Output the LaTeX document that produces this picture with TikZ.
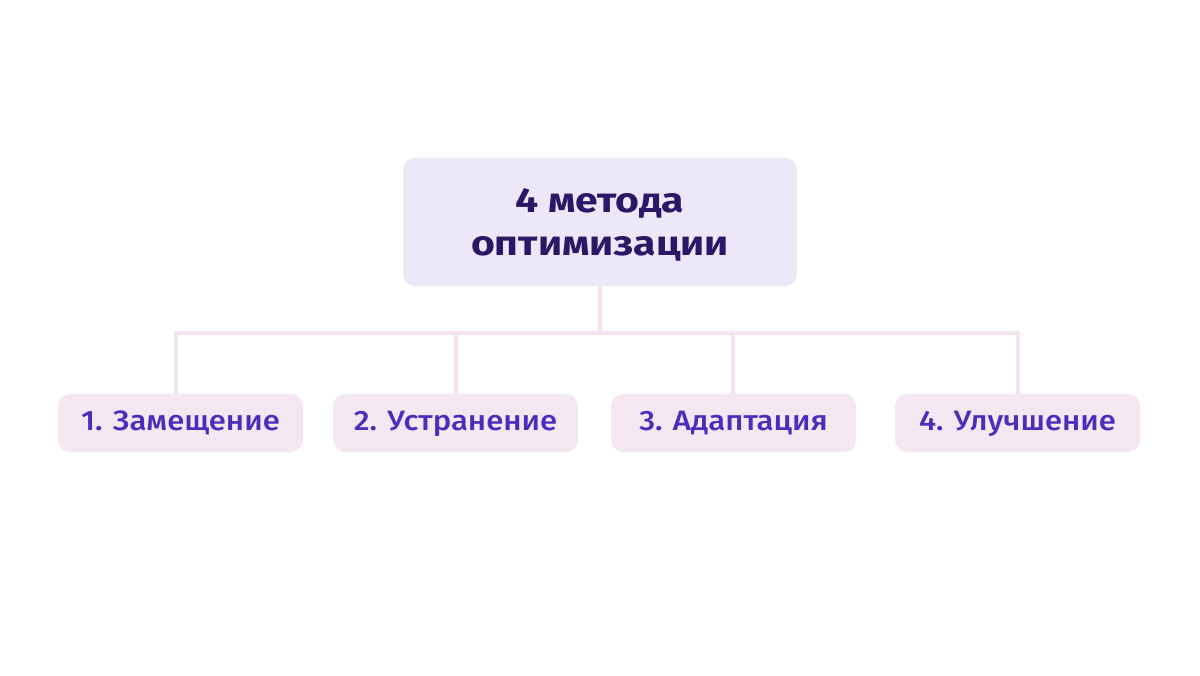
\documentclass[tikz,border=0pt]{standalone}
\usepackage{fontspec}
\setmainfont{Fira Sans}
\newfontfamily\topfont{Fira Sans Bold}[FakeStretch=1.18]
\newfontfamily\medfont{Fira Sans Medium}[FakeStretch=1.11]
\definecolor{topfill}{HTML}{ECE8F8}
\definecolor{toptext}{HTML}{2B1766}
\definecolor{subfill}{HTML}{F4E7F2}
\definecolor{subtext}{HTML}{4A2DBB}
\definecolor{linecol}{HTML}{F3E4F0}
\tikzset{
  topbox/.style={fill=topfill, rounded corners=9pt, minimum width=394*0.75pt, minimum height=128*0.75pt, inner sep=0pt, align=center, text=toptext, text height=50.25pt, text depth=0pt, font=\topfont\fontsize{26}{32.25}\selectfont},
  subbox/.style={fill=subfill, rounded corners=9pt, minimum width=245*0.75pt, minimum height=58*0.75pt, inner sep=0pt, text=subtext, text height=15pt, text depth=4.5pt, font=\medfont\fontsize{21}{24}\selectfont},
  conn/.style={draw=linecol, line width=3pt}
}
\begin{document}
\begin{tikzpicture}[x=0.75pt,y=-0.75pt]
\useasboundingbox[fill=white] (0,0) rectangle (1200,675);
\node[topbox] (top) at (600,222) {4 метода\\оптимизации};
\node[subbox] (s1) at (180.5,423) {1. Замещение};
\node[subbox] (s2) at (455.5,423) {2. Устранение};
\node[subbox] (s3) at (733.5,423) {3. Адаптация};
\node[subbox] (s4) at (1017.5,423) {4. Улучшение};
\coordinate (hub) at (600,333);
\coordinate (b1) at (176,333);
\coordinate (b2) at (456,333);
\coordinate (b3) at (733,333);
\coordinate (b4) at (1018,333);
\draw[conn] (top.south) -- (hub);
\draw[conn,line cap=rect] (b1) -- (b4);
\draw[conn] (b1) -- (b1 |- s1.north);
\draw[conn] (b2) -- (b2 |- s2.north);
\draw[conn] (b3) -- (b3 |- s3.north);
\draw[conn] (b4) -- (b4 |- s4.north);
\end{tikzpicture}
\end{document}
